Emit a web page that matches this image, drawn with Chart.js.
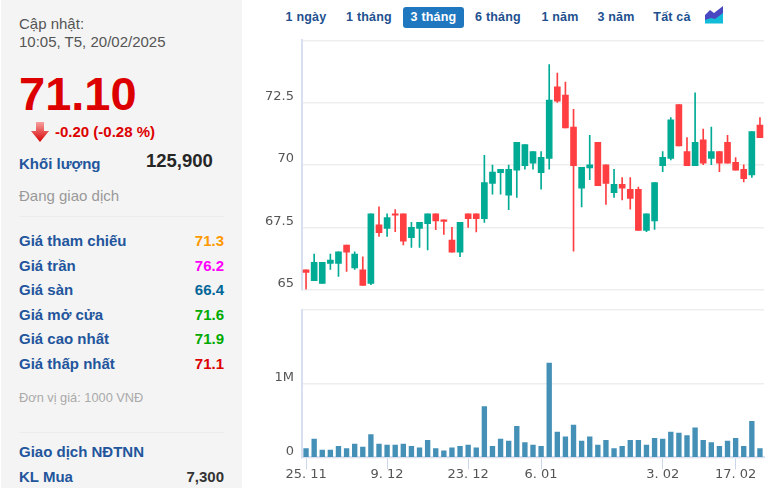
<!DOCTYPE html>
<html>
<head>
<meta charset="utf-8">
<title>Biểu đồ giá</title>
<script src="https://cdn.jsdelivr.net/npm/chart.js@4"></script>
<style>
    html, body { margin: 0; padding: 0; background: #fff; }
    body { width: 772px; height: 488px; overflow: hidden; position: relative; font-family: "Liberation Sans", Arial, sans-serif; }
    #side { position: absolute; left: 1px; top: 0; width: 241px; height: 488px; background: #f4f4f4; }
    .t { position: absolute; white-space: nowrap; line-height: 20px; }
    .lb { left: 19px; font-size: 15px; font-weight: bold; color: #22559c; }
    .val { left: auto; right: calc(772px - 224px); font-size: 15px; font-weight: bold; }
    .rule { position: absolute; left: 19px; width: 205px; height: 1px; background: #ececec; }
    .btn { position: absolute; top: 7px; height: 21px; line-height: 21px; font-size: 12.5px; font-weight: bold; color: #22508f; text-align: center; letter-spacing: .2px; }
    .btn.on { background: #1f78bf; color: #fff; border-radius: 3px; }
    canvas { position: absolute; left: 242px; }
</style>
</head>
<body>
<div id="side"></div>
<div class="t" style="left:19px;top:14px;font-size:15px;color:#555">Cập nhật:</div>
<div class="t" style="left:19px;top:32px;font-size:15px;color:#555">10:05, T5, 20/02/2025</div>
<div class="t" style="left:19px;top:69px;font-size:47px;line-height:50px;font-weight:bold;color:#dd0000">71.10</div>
<svg style="position:absolute;left:30px;top:122px" width="20" height="21" viewBox="0 0 20 21">
    <defs><linearGradient id="mui" x1="0" y1="0" x2="0" y2="1"><stop offset="0" stop-color="#f7a0a0"/><stop offset="1" stop-color="#d80000"/></linearGradient></defs>
    <path d="M6 0H14V9H19L10 20L1 9H6Z" fill="url(#mui)"/>
</svg>
<div class="t" style="left:55px;top:122px;font-size:15px;font-weight:bold;color:#dd0000">-0.20 (-0.28 %)</div>
<div class="t lb" style="top:154px;font-size:15px">Khối lượng</div>
<div class="t" style="left:146px;top:151px;font-size:18.500px;font-weight:bold;color:#262626">125,900</div>
<div class="t" style="left:19px;top:186px;font-size:15px;color:#999">Đang giao dịch</div>
<div class="rule" style="top:216px"></div>

<div class="t lb" style="top:231px">Giá tham chiếu</div><div class="t val" style="top:231px;color:#ff9900">71.3</div>
<div class="t lb" style="top:255.5px">Giá trần</div><div class="t val" style="top:255.5px;color:#ff00ff">76.2</div>
<div class="t lb" style="top:279.5px">Giá sàn</div><div class="t val" style="top:279.5px;color:#006699">66.4</div>
<div class="t lb" style="top:304.5px">Giá mở cửa</div><div class="t val" style="top:304.5px;color:#00aa00">71.6</div>
<div class="t lb" style="top:329px">Giá cao nhất</div><div class="t val" style="top:329px;color:#00aa00">71.9</div>
<div class="t lb" style="top:353.5px">Giá thấp nhất</div><div class="t val" style="top:353.5px;color:#dd0000">71.1</div>
<div class="t" style="left:19px;top:388px;font-size:12.800px;color:#aaa">Đơn vị giá: 1000 VNĐ</div>
<div class="rule" style="top:432px"></div>
<div class="t lb" style="top:442px">Giao dịch NĐTNN</div>
<div class="t lb" style="top:467px">KL Mua</div><div class="t val" style="top:467px;color:#333">7,300</div>

<div class="btn" style="left:280px;width:52px">1 ngày</div>
<div class="btn" style="left:340px;width:58px">1 tháng</div>
<div class="btn on" style="left:403px;width:61px">3 tháng</div>
<div class="btn" style="left:469px;width:58px">6 tháng</div>
<div class="btn" style="left:535px;width:50px">1 năm</div>
<div class="btn" style="left:591px;width:50px">3 năm</div>
<div class="btn" style="left:648px;width:48px">Tất cả</div>
<svg style="position:absolute;left:705px;top:6px" width="18" height="18" viewBox="0 0 18 18">
    <path d="M0 9L5 4L9 7L18 0V12L9 14L0 15Z" fill="#4a48c0"/>
    <path d="M0 14L6 12L10 13L18 7V17.500H0Z" fill="#12bcd8"/>
</svg>

<canvas id="grafikGia" width="530" height="262" style="top:30px"></canvas>
<canvas id="grafikKL" width="530" height="188" style="top:300px"></canvas>

<script>
const ngay = ["25. 11","26. 11","27. 11","28. 11","29. 11","2. 12","3. 12","4. 12","5. 12","6. 12",
    "9. 12","10. 12","11. 12","12. 12","13. 12","16. 12","17. 12","18. 12","19. 12","20. 12",
    "23. 12","24. 12","25. 12","26. 12","27. 12","30. 12","31. 12","2. 01","3. 01",
    "6. 01","7. 01","8. 01","9. 01","10. 01","13. 01","14. 01","15. 01","16. 01","17. 01",
    "20. 01","21. 01","22. 01","23. 01","24. 01",
    "3. 02","4. 02","5. 02","6. 02","7. 02","10. 02","11. 02","12. 02","13. 02",
    "17. 02","18. 02","19. 02","20. 02"];
const nhanNgay = ["25. 11","9. 12","23. 12","6. 01","3. 02","17. 02"];

const moCua = [65.8,65.36,65.25,66.05,66.05,66.79,65.87,65.8,65.25,67.6,
    67.46,68.04,68.04,67.09,67.46,67.65,68.04,67.8,66.99,66.5,
    68.04,68.04,67.85,69.26,69.69,68.79,69.79,69.97,70.07,69.69,
    70.26,73.13,72.8,71.52,69.07,69.88,70.91,70.01,68.89,69.22,
    69.02,69.02,67.38,67.76,69.97,70.26,72.42,70.54,69.97,71.01,
    70.26,70.54,70.91,70.11,69.83,69.6,71.6];
const dongCua = [65.69,66.1,66.1,66.19,66.52,66.5,66.43,65.17,68.04,67.29,
    67.89,67.99,66.95,67.5,67.7,68.04,67.76,67.74,66.5,67.7,
    67.85,67.85,69.3,69.72,69.83,69.83,70.91,70.82,70.54,70.31,
    72.6,72.56,71.49,69.97,69.91,70.01,69.17,69.26,69.22,69.07,
    68.66,67.38,68.04,69.3,70.31,71.81,70.77,69.97,70.91,70.07,
    70.54,70.07,70.07,69.79,69.45,71.34,71.1];
const tertinggi = [65.8,66.43,66.1,66.43,66.52,66.79,66.52,66.32,68.04,68.32,
    68.04,68.21,68.04,67.7,67.7,68.04,68.04,67.8,67.5,67.7,
    68.04,68.04,70.39,70,69.83,70,70.91,70.82,70.54,70.54,
    74.03,73.69,73.32,72.23,69.91,71.19,70.91,70.01,69.83,69.5,
    69.5,69.11,68.04,69.3,70.54,71.9,72.42,71.1,72.89,71.44,
    71.52,70.54,71.19,70.3,70.01,71.34,71.9];
const terendah = [65.02,65.36,65.25,65.81,65.53,65.73,65.81,65.17,65.2,67.14,
    67.14,67.33,66.8,66.7,66.7,66.6,67.41,67.22,66.5,66.32,
    67.5,67.32,67.7,68.83,68.83,68.21,68.7,69.83,69.83,69.03,
    69.83,72.51,71.49,66.54,68.32,69.41,69.17,68.42,68.7,68.6,
    68.23,67.38,67.33,67.42,69.73,70.2,70.77,69.97,69.97,70.01,
    70.01,69.73,70.07,69.79,69.32,69.5,71.1];
const khoiLuong = [120000,250000,100000,100000,150000,120000,180000,140000,310000,180000,
    166000,166000,180000,150000,130000,230000,120000,90000,130000,150000,
    166000,130000,690000,150000,250000,220000,420000,200000,166000,150000,
    1280000,345000,280000,440000,220000,280000,166000,230000,120000,150000,
    230000,230000,166000,260000,250000,345000,330000,295000,400000,230000,
    200000,150000,220000,260000,150000,490000,120000];

const nhanGia = [65, 67.5, 70, 72.5];
const nhanKL = { 0: "0", 1000000: "1M" };

const hijau = "#00ab95";
const merah = "#ff3f42";
const warnaLilin = dongCua.map((d, i) => d >= moCua[i] ? hijau : merah);
const fontTruc = { family: "'DejaVu Sans'", size: 13 };

Chart.defaults.animation = false;

function trucX(hien) {
    return {
        display: hien,
        offset: true,
        afterFit: s => { s.paddingLeft = 0; s.paddingRight = 0; },
        grid: { offset: false, drawOnChartArea: false, tickLength: 12, tickColor: "#ccd6eb", tickWidth: 1 },
        border: { color: "#d8dff0", width: 2 },
        ticks: {
            autoSkip: false, maxRotation: 0, padding: -3, color: "#555", font: fontTruc,
            callback: function (v) {
                const nhan = this.getLabelForValue(v);
                return nhanNgay.includes(nhan) ? nhan : null;
            }
        }
    };
}

function trucY(min, max, buoc, nhan, bu) {
    return {
        min: min, max: max,
        // bỏ phần đệm của nhãn để vùng vẽ đúng kích thước
        afterFit: s => { s.width = 60; s.paddingTop = 0; s.paddingBottom = 0; },
        grid: { color: "#eeeeee", lineWidth: 1.5, drawTicks: false },
        border: { color: "#d8dff0", width: 2 },
        ticks: { stepSize: buoc, padding: 8, color: "#555", font: fontTruc, labelOffset: bu, callback: nhan }
    };
}

// Grafik nến: bóng và thân đều là thanh nổi
new Chart(document.getElementById("grafikGia").getContext("2d"), {
    type: "bar",
    data: {
        labels: ngay,
        datasets: [{
            data: terendah.map((v, i) => [v, tertinggi[i]]),
            backgroundColor: warnaLilin,
            barThickness: 1,
            grouped: false
        }, {
            data: moCua.map((v, i) => [v, dongCua[i]]),
            backgroundColor: warnaLilin,
            barThickness: 6,
            grouped: false
        }]
    },
    options: {
        responsive: false,
        layout: { padding: { top: 10.3, bottom: 2.3, right: 8, left: 0 } },
        plugins: { legend: { display: false }, tooltip: { enabled: false } },
        scales: {
            x: trucX(false),
            y: trucY(65, 75, 2.5, v => nhanGia.includes(v) ? String(v) : "", -6)
        }
    }
});

// Grafik khối lượng
new Chart(document.getElementById("grafikKL").getContext("2d"), {
    type: "bar",
    data: {
        labels: ngay,
        datasets: [{ data: khoiLuong, backgroundColor: "#4590b6", barThickness: 4.7 }]
    },
    options: {
        responsive: false,
        layout: { padding: { top: 10, bottom: 9, right: 8, left: 0 } },
        plugins: { legend: { display: false }, tooltip: { enabled: false } },
        scales: {
            x: trucX(true),
            y: trucY(0, 2000000, 1000000, v => nhanKL[v] || "", -6)
        }
    }
});
</script>
</body>
</html>
